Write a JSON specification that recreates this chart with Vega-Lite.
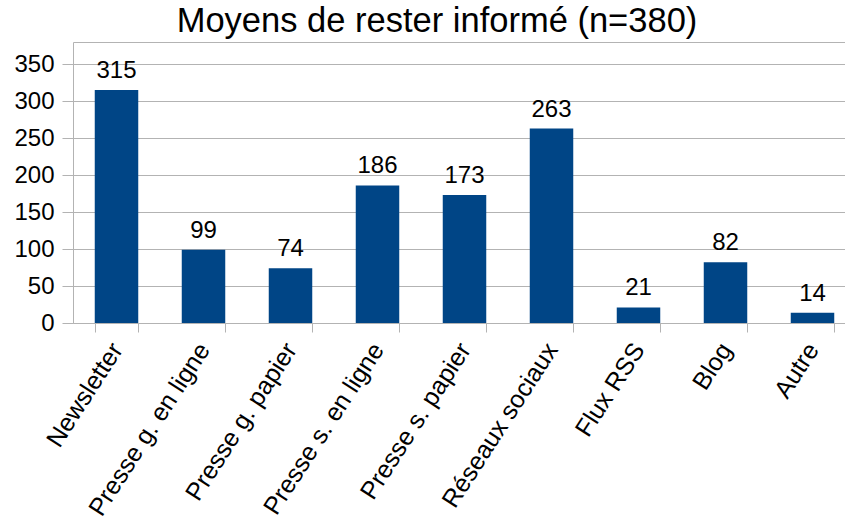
{
  "$schema": "https://vega.github.io/schema/vega-lite/v6.json",
  "autosize": "none",
  "width": 772,
  "height": 281,
  "padding": {"left": 73, "top": 42, "right": 0, "bottom": 197},
  "background": "white",
  "title": {
    "text": "Moyens de rester informé (n=380)",
    "font": "Liberation Sans",
    "fontSize": 34.5,
    "fontWeight": "normal",
    "color": "black",
    "anchor": "middle",
    "baseline": "bottom",
    "offset": 0,
    "dx": -22,
    "dy": 31
  },
  "data": {
    "values": [
      {"cat": "Newsletter", "n": 315},
      {"cat": "Presse g. en ligne", "n": 99},
      {"cat": "Presse g. papier", "n": 74},
      {"cat": "Presse s. en ligne", "n": 186},
      {"cat": "Presse s. papier", "n": 173},
      {"cat": "Réseaux sociaux", "n": 263},
      {"cat": "Flux RSS", "n": 21},
      {"cat": "Blog", "n": 82},
      {"cat": "Autre", "n": 14}
    ]
  },
  "encoding": {
    "x": {
      "field": "cat",
      "type": "nominal",
      "sort": null,
      "scale": {"range": [0, 783], "paddingInner": 0.5, "paddingOuter": 0.25},
      "axis": {
        "title": null,
        "tickBand": "extent",
        "tickSize": 9,
        "tickColor": "#b3b3b3",
        "domainColor": "#b3b3b3",
        "labelAngle": -57,
        "labelFont": "Liberation Sans",
        "labelFontSize": 25,
        "labelColor": "black",
        "labelPadding": 13,
        "labelLimit": 400
      }
    },
    "y": {
      "field": "n",
      "type": "quantitative",
      "scale": {"domain": [0, 380], "nice": false},
      "axis": {
        "title": null,
        "values": [0, 50, 100, 150, 200, 250, 300, 350, 380],
        "labelExpr": "datum.value == 380 ? '' : datum.label",
        "tickOpacity": {"condition": {"test": "datum.value == 380", "value": 0}, "value": 1},
        "grid": true,
        "gridColor": "#b3b3b3",
        "tickColor": "#b3b3b3",
        "domainColor": "#b3b3b3",
        "tickSize": 11,
        "labelPadding": 8,
        "labelFont": "Liberation Sans",
        "labelFontSize": 24,
        "labelColor": "black"
      }
    }
  },
  "layer": [
    {"mark": {"type": "bar", "color": "#004586"}},
    {
      "mark": {"type": "text", "font": "Liberation Sans", "fontSize": 24, "dy": -12, "baseline": "alphabetic", "color": "black"},
      "encoding": {"text": {"field": "n"}}
    }
  ],
  "config": {"view": {"stroke": null}}
}
